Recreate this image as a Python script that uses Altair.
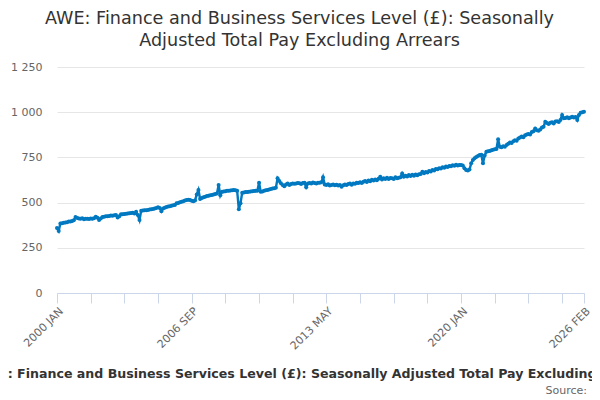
import altair as alt
import pandas as pd

# Monthly values (GBP), Jan 2000 .. Feb 2026
y2000 = [360, 343, 385, 386, 388, 390, 392, 395, 396, 398, 402, 420]
y2001 = [415, 412, 410, 413, 408, 410, 411, 409, 412, 410, 414, 422]
y2002 = [416, 404, 412, 420, 422, 424, 425, 426, 428, 427, 430, 431]
y2003 = [418, 425, 435, 436, 437, 438, 440, 441, 442, 444, 440, 449]
y2004 = [431, 404, 455, 456, 457, 458, 459, 462, 463, 465, 467, 470]
y2005 = [474, 470, 452, 468, 472, 475, 478, 480, 482, 485, 487, 496]
y2006 = [498, 502, 505, 508, 512, 514, 516, 515, 510, 508, 512, 545]
y2007 = [570, 520, 525, 530, 533, 536, 538, 540, 542, 545, 548, 551]
y2008 = [597, 540, 560, 562, 563, 565, 566, 567, 568, 570, 568, 565]
y2009 = [463, 497, 555, 556, 558, 559, 560, 562, 563, 564, 565, 566]
y2010 = [610, 560, 562, 565, 568, 570, 572, 575, 578, 579, 582, 634]
y2011 = [620, 607, 597, 590, 600, 605, 598, 603, 606, 604, 606, 608]
y2012 = [607, 603, 609, 610, 585, 605, 609, 606, 611, 608, 605, 610]
y2013 = [610, 612, 640, 600, 597, 601, 594, 598, 600, 596, 599, 594]
y2014 = [597, 588, 596, 600, 597, 603, 605, 599, 606, 604, 610, 608]
y2015 = [613, 609, 615, 620, 614, 622, 618, 626, 622, 628, 624, 632]
y2016 = [643, 628, 634, 631, 637, 630, 636, 634, 631, 640, 635, 637]
y2017 = [640, 661, 643, 649, 645, 652, 647, 654, 649, 656, 651, 657]
y2018 = [658, 671, 663, 669, 666, 675, 672, 680, 677, 686, 684, 690]
y2019 = [689, 695, 693, 699, 697, 703, 701, 706, 704, 709, 705, 708]
y2020 = [708, 705, 690, 680, 678, 683, 717, 735, 745, 752, 758, 763]
y2021 = [765, 717, 760, 781, 784, 786, 789, 792, 795, 797, 850, 809]
y2022 = [806, 812, 809, 819, 826, 832, 829, 840, 845, 842, 855, 860]
y2023 = [865, 862, 872, 876, 880, 877, 890, 895, 910, 900, 898, 905]
y2024 = [915, 920, 947, 940, 935, 942, 945, 938, 948, 950, 946, 957]
y2025 = [984, 966, 968, 972, 967, 970, 975, 970, 974, 957, 985, 997]
y2026 = [1000, 1003]

years = list(range(2000, 2027))
series = [y2000, y2001, y2002, y2003, y2004, y2005, y2006, y2007, y2008,
          y2009, y2010, y2011, y2012, y2013, y2014, y2015, y2016, y2017,
          y2018, y2019, y2020, y2021, y2022, y2023, y2024, y2025, y2026]
month_names = ["JAN", "FEB", "MAR", "APR", "MAY", "JUN",
               "JUL", "AUG", "SEP", "OCT", "NOV", "DEC"]

rows = []
for yr, vals in zip(years, series):
    for m, v in enumerate(vals):
        rows.append({"idx": len(rows), "label": f"{yr} {month_names[m]}", "value": v})
df = pd.DataFrame(rows)

tick_values = list(range(0, 301, 20)) + [len(rows) - 1]
shown_ticks = [0, 80, 160, 240, len(rows) - 1]
expr = "''"
for t in reversed(shown_ticks):
    expr = f"datum.value == {t} ? '{rows[t]['label']}' : ({expr})"

title_lines = ["AWE: Finance and Business Services Level (£): Seasonally",
               "Adjusted Total Pay Excluding Arrears"]
series_name = "AWE: Finance and Business Services Level (£): Seasonally Adjusted Total Pay Excluding Arrears"
source_text = "Source:"

FONT = "DejaVu Sans"
BLUE = "#0079C1"

base = alt.Chart(df)
line = base.mark_line(color=BLUE, strokeWidth=2.4,
                      point=alt.OverlayMarkDef(color=BLUE, filled=True, size=16)).encode(
    x=alt.X("idx:Q", scale=alt.Scale(domain=[0, len(rows) - 1], nice=False, zero=False),
            axis=alt.Axis(values=tick_values, labelExpr=expr, title=None, grid=False,
                          labelAngle=315, labelAlign="right", labelBaseline="top",
                          labelFontSize=11, labelColor="#666666", labelFont=FONT,
                          labelPadding=2, tickSize=10, tickColor="#ccd6eb",
                          domainColor="#ccd6eb", labelOverlap=False, labelFlush=False)),
    y=alt.Y("value:Q", scale=alt.Scale(domain=[0, 1250], nice=False),
            axis=alt.Axis(values=[0, 250, 500, 750, 1000, 1250], title=None,
                          labelExpr="replace(format(datum.value, ','), ',', ' ')",
                          domain=False, ticks=False, gridColor="#e6e6e6",
                          labelFontSize=11, labelColor="#666666", labelFont=FONT,
                          labelPadding=15)),
)

legend_text = alt.Chart(pd.DataFrame({"t": [series_name]})).mark_text(
    align="left", baseline="alphabetic", fontSize=12.6, fontWeight="bold",
    font=FONT, color="#333333").encode(
    x=alt.value(-81), y=alt.value(311), text="t:N")

source = alt.Chart(pd.DataFrame({"t": [source_text]})).mark_text(
    align="right", baseline="alphabetic", fontSize=11, font=FONT,
    color="#666666").encode(
    x=alt.value(530), y=alt.value(327), text="t:N")

chart = alt.layer(line, legend_text, source).properties(
    width=527, height=226,
    autosize=alt.AutoSizeParams(type="none"),
    padding={"left": 49, "top": 59, "right": 8, "bottom": 107},
    title=alt.Title(title_lines, anchor="middle", fontSize=17.6, font=FONT,
                    fontWeight="normal", color="#333333", lineHeight=22,
                    offset=11, dx=-21),
).configure_view(stroke=None)

chart.save("out.html", embed_options={"renderer": "svg", "actions": False})
